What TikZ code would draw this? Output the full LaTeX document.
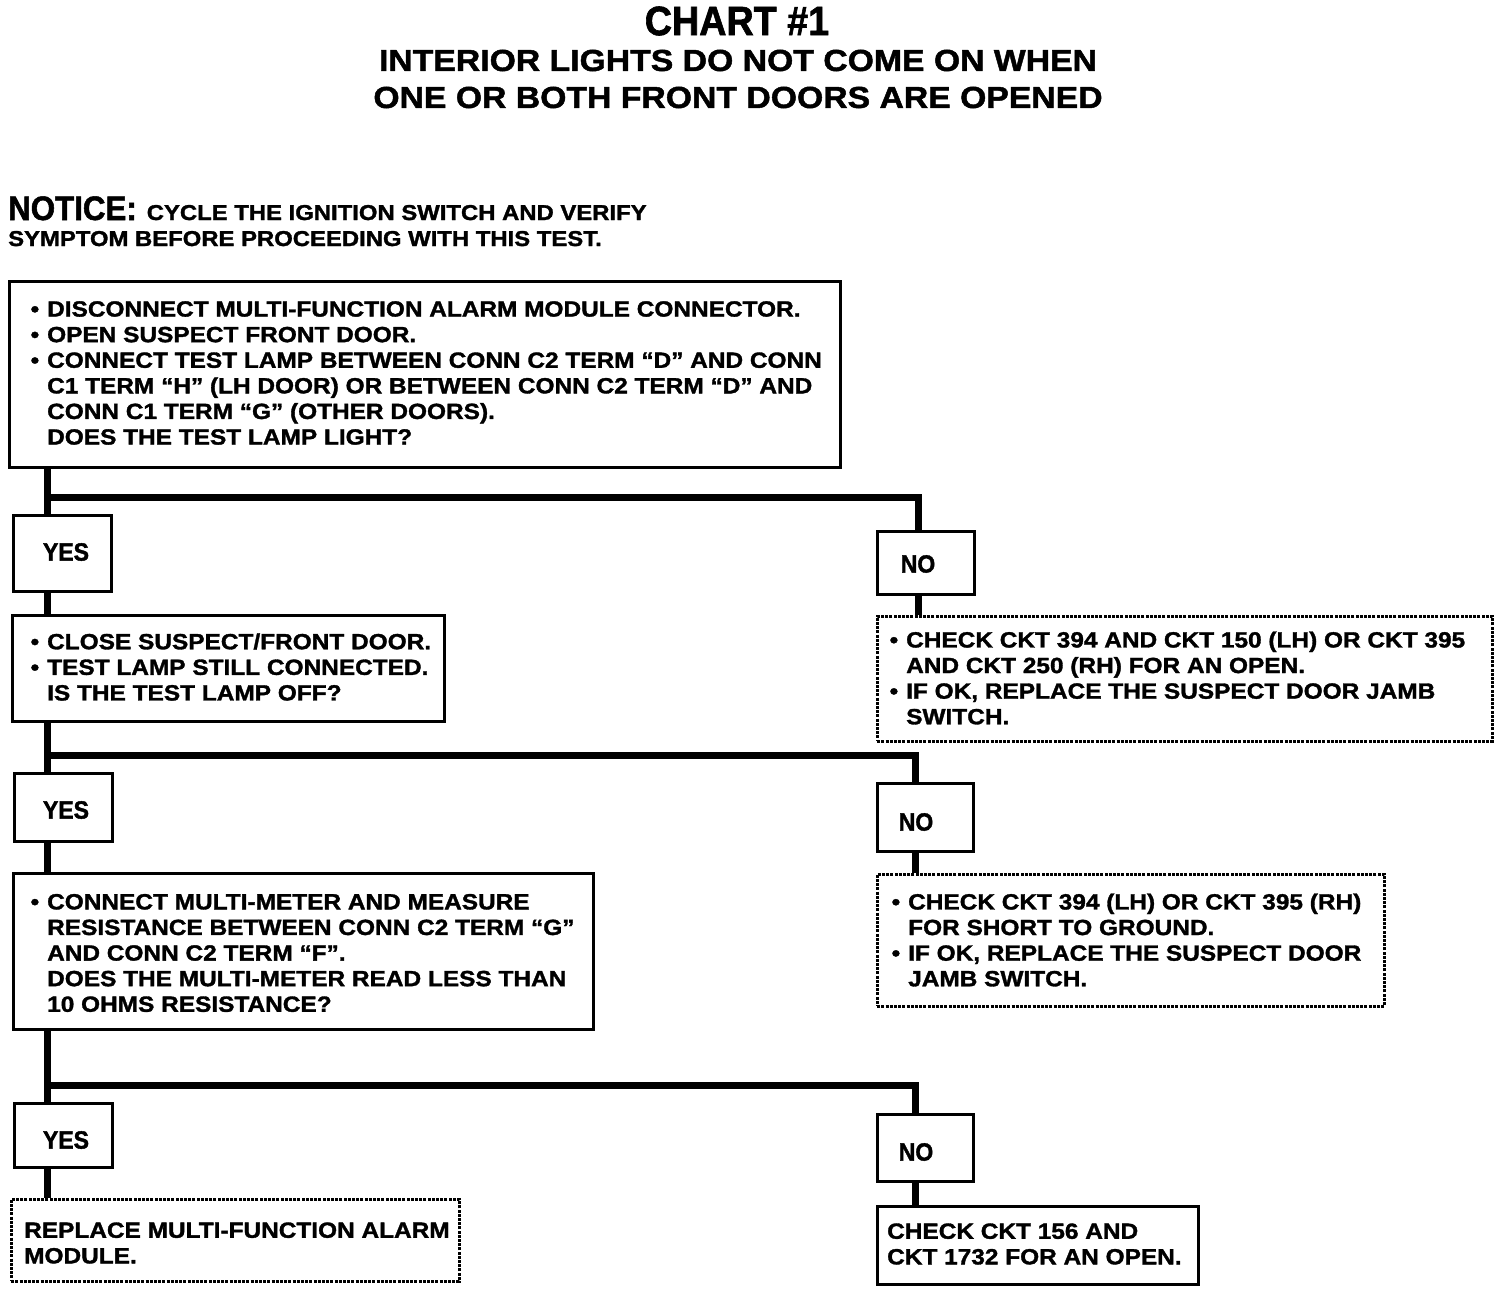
\documentclass[tikz,border=0pt]{standalone}
\usepackage{fontspec}
\setmainfont{Liberation Sans}[FakeBold=1.2]
\newfontfamily\bodyfont[FakeStretch=1.11,FakeBold=1.5]{Liberation Sans}
\newfontfamily\titlefont[FakeStretch=0.92,FakeBold=1.5]{Liberation Sans}
\newcommand{\bul}{\llap{•\hspace{8pt}}}
\begin{document}
\begin{tikzpicture}[x=1pt,y=-1pt,
  box/.style={draw, line width=3pt, anchor=north west, inner sep=0pt},
  dbox/.style={draw, line width=2.5pt, dash pattern=on 3pt off 1.2pt, anchor=north west, inner sep=0pt},
  txt/.style={anchor=west, align=left, inner sep=0pt, font=\bodyfont\bfseries\fontsize{22}{25.6}\selectfont},
  yn/.style={inner sep=0pt, font=\titlefont\bfseries\fontsize{25}{25}\selectfont},
  conn/.style={line width=7pt, line join=miter}]
\useasboundingbox (0,0) rectangle (1504,1292);
\fill[white] (0,0) rectangle (1504,1292);

% title
\node[inner sep=0pt, font=\titlefont\bfseries\fontsize{41}{41}\selectfont] (title) at (737,21) {CHART \#1};
\node[inner sep=0pt, align=center, font=\bodyfont\bfseries\fontsize{30.4}{37}\selectfont] (sub) at (738,79)
  {INTERIOR LIGHTS DO NOT COME ON WHEN\\ONE OR BOTH FRONT DOORS ARE OPENED};

% notice
\node[anchor=base west, inner sep=0pt] (notice) at (8,220)
  {{\titlefont\bfseries\fontsize{34}{34}\selectfont NOTICE:}\hspace{10pt}{\bodyfont\bfseries\fontsize{21.5}{26}\selectfont CYCLE THE IGNITION SWITCH AND VERIFY}};
\node[anchor=base west, inner sep=0pt, font=\bodyfont\bfseries\fontsize{21.5}{26}\selectfont] (notice2) at (8,246)
  {SYMPTOM BEFORE PROCEEDING WITH THIS TEST.};

% boxes
\node[box, minimum width=831pt, minimum height=186pt] (b1) at (8,280) {};
\node[txt] (t1) at (47,373) {\bul DISCONNECT MULTI-FUNCTION ALARM MODULE CONNECTOR.\\
\bul OPEN SUSPECT FRONT DOOR.\\
\bul CONNECT TEST LAMP BETWEEN CONN C2 TERM “D” AND CONN\\
C1 TERM “H” (LH DOOR) OR BETWEEN CONN C2 TERM “D” AND\\
CONN C1 TERM “G” (OTHER DOORS).\\
DOES THE TEST LAMP LIGHT?};

\node[box, minimum width=98pt, minimum height=76pt] (yes1) at (12,514) {};
\node[yn] (ly1) at (66,552) {YES};
\node[box, minimum width=97pt, minimum height=63pt] (no1) at (876,530) {};
\node[yn] (ln1) at (918,564) {NO};

\node[box, minimum width=432pt, minimum height=106pt] (b2) at (11,614) {};
\node[txt] (t2) at (47,667) {\bul CLOSE SUSPECT/FRONT DOOR.\\
\bul TEST LAMP STILL CONNECTED.\\
IS THE TEST LAMP OFF?};

\node[dbox, minimum width=615pt, minimum height=125pt] (d1) at (876,615) {};
\node[txt] (td1) at (906,678) {\bul CHECK CKT 394 AND CKT 150 (LH) OR CKT 395\\
AND CKT 250 (RH) FOR AN OPEN.\\
\bul IF OK, REPLACE THE SUSPECT DOOR JAMB\\
SWITCH.};

\node[box, minimum width=98pt, minimum height=68pt] (yes2) at (13,772) {};
\node[yn] (ly2) at (66,810) {YES};
\node[box, minimum width=96pt, minimum height=68pt] (no2) at (876,782) {};
\node[yn] (ln2) at (916,822) {NO};

\node[box, minimum width=580pt, minimum height=156pt] (b3) at (12,872) {};
\node[txt] (t3) at (47,953) {\bul CONNECT MULTI-METER AND MEASURE\\
RESISTANCE BETWEEN CONN C2 TERM “G”\\
AND CONN C2 TERM “F”.\\
DOES THE MULTI-METER READ LESS THAN\\
10 OHMS RESISTANCE?};

\node[dbox, minimum width=507pt, minimum height=132pt] (d2) at (876,873) {};
\node[txt] (td2) at (908,940) {\bul CHECK CKT 394 (LH) OR CKT 395 (RH)\\
FOR SHORT TO GROUND.\\
\bul IF OK, REPLACE THE SUSPECT DOOR\\
JAMB SWITCH.};

\node[box, minimum width=98pt, minimum height=64pt] (yes3) at (13,1102) {};
\node[yn] (ly3) at (66,1140) {YES};
\node[box, minimum width=96pt, minimum height=67pt] (no3) at (876,1113) {};
\node[yn] (ln3) at (916,1152) {NO};

\node[dbox, minimum width=448pt, minimum height=82pt] (d3) at (10,1198) {};
\node[txt] (td3) at (24,1243) {REPLACE MULTI-FUNCTION ALARM\\MODULE.};

\node[box, minimum width=321pt, minimum height=78pt] (b4) at (876,1205) {};
\node[txt] (t4) at (887,1244) {CHECK CKT 156 AND\\CKT 1732 FOR AN OPEN.};

% connectors
\coordinate (j1) at (47,497);
\coordinate (k1) at (918,497);
\coordinate (j2) at (47,755);
\coordinate (k2) at (915,755);
\coordinate (j3) at (47,1085);
\coordinate (k3) at (915,1085);

\draw[conn] (b1.south -| j1) -- (yes1.north -| j1);
\draw[conn] (j1) -- (k1) -- (no1.north -| k1);
\draw[conn] (yes1.south -| j1) -- (b2.north -| j1);
\draw[conn] (no1.south -| k1) -- (d1.north -| k1);

\draw[conn] (b2.south -| j2) -- (yes2.north -| j2);
\draw[conn] (j2) -- (k2) -- (no2.north -| k2);
\draw[conn] (yes2.south -| j2) -- (b3.north -| j2);
\draw[conn] (no2.south -| k2) -- (d2.north -| k2);

\draw[conn] (b3.south -| j3) -- (yes3.north -| j3);
\draw[conn] (j3) -- (k3) -- (no3.north -| k3);
\draw[conn] (yes3.south -| j3) -- (d3.north -| j3);
\draw[conn] (no3.south -| k3) -- (b4.north -| k3);
\end{tikzpicture}
\end{document}
